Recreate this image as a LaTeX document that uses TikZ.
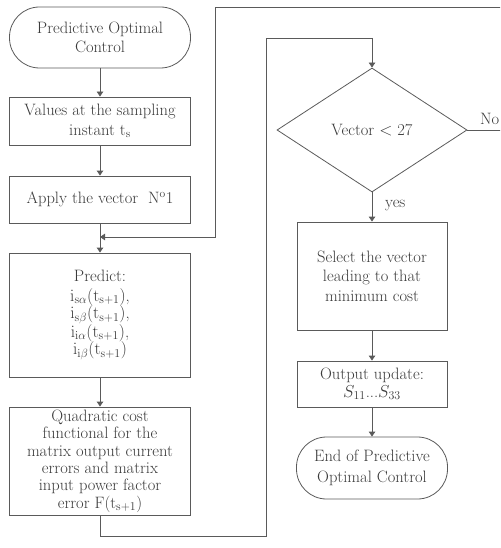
\documentclass[tikz,border=0pt]{standalone}
\usetikzlibrary{shapes.geometric,arrows.meta}
\definecolor{ln}{HTML}{5A5A5A}
\definecolor{tx}{HTML}{3A3A3A}
\tikzset{
  every node/.style={text=tx,font=\fontsize{16.5}{17.4}\selectfont},
  boxnode/.style={draw=ln,line width=0.8pt,rectangle,inner sep=0pt,align=center},
  termnode/.style={draw=ln,line width=0.8pt,rectangle,rounded corners=30pt,inner sep=0pt,align=center},
  line/.style={draw=ln,line width=0.8pt},
  arr/.style={line,-{Triangle[width=6.5pt,length=5pt]}}
}
\begin{document}
\begin{tikzpicture}[x=1pt,y=-1pt]
\useasboundingbox (0,0) rectangle (500,548);
\clip (0,0) rectangle (500,548);
\node[termnode,minimum width=181pt,minimum height=61pt] (start) at (100,37.5) {Predictive Optimal\\[2pt]Control};
\node[boxnode,minimum width=181pt,minimum height=48pt] (vals) at (100,121) {Values at the sampling\\[2pt]instant t\textsubscript{s}};
\node[boxnode,minimum width=181pt,minimum height=47pt] (apply) at (100,199.5) {Apply the vector\ \ N\textsuperscript{o}1};
\node[boxnode,minimum width=181pt,minimum height=124pt] (pred) at (100,315) {Predict:\\[2pt]
$\mathrm{i}_{\mathrm{s}\alpha}(\mathrm{t}_{\mathrm{s+1}})$,\\
$\mathrm{i}_{\mathrm{s}\beta}(\mathrm{t}_{\mathrm{s+1}})$,\\
$\mathrm{i}_{\mathrm{i}\alpha}(\mathrm{t}_{\mathrm{s+1}})$,\\
$\mathrm{i}_{\mathrm{i}\beta}(\mathrm{t}_{\mathrm{s+1}})$};
\node[boxnode,minimum width=181pt,minimum height=108pt] (quad) at (100,461) {Quadratic cost\\functional for the\\matrix output current\\errors and matrix\\input power factor\\error F(t$_{\mathrm{s+1}}$)};
\node[draw=ln,line width=0.8pt,diamond,inner sep=0pt,minimum width=190pt,minimum height=124pt,aspect=1.53] (dec) at (372,130) {Vector $<$ 27};
\node[boxnode,minimum width=150pt,minimum height=108pt] (sel) at (372,276) {Select the vector\\[2pt]leading to that\\[2pt]minimum cost};
\node[boxnode,minimum width=150pt,minimum height=46pt] (out) at (372,384) {Output update:\\$S_{11}$...$S_{33}$};
\node[termnode,minimum width=151pt,minimum height=62pt] (fin) at (372,468) {End of Predictive\\[3pt]Optimal Control};
\node[anchor=west,inner sep=0pt] (no) at (480,119) {No};
\node[anchor=west,inner sep=0pt] (yes) at (385,206) {yes};
\coordinate (j) at (100,237);
\coordinate (r1) at (515,130);
\coordinate (r2) at (515,7);
\coordinate (t1) at (215,7);
\coordinate (t2) at (215,237);
\coordinate (b1) at (100,536);
\coordinate (b2) at (266,536);
\coordinate (b3) at (266,38);
\coordinate (b4) at (372,38);
\draw[arr] (start) -- (vals);
\draw[arr] (vals) -- (apply);
\draw[arr] (apply) -- (pred);
\draw[arr] (pred) -- (quad);
\draw[arr] (dec.east) -- (r1) -- (r2) -- (t1) -- (t2) -- (j);
\draw[line] (quad.south) -- (b1) -- (b2) -- (b3) -- (b4);
\draw[arr] (b4) -- (dec.north);
\draw[arr] (dec.south) -- (sel.north);
\draw[arr] (sel) -- (out);
\draw[arr] (out) -- (fin);
\end{tikzpicture}
\end{document}
